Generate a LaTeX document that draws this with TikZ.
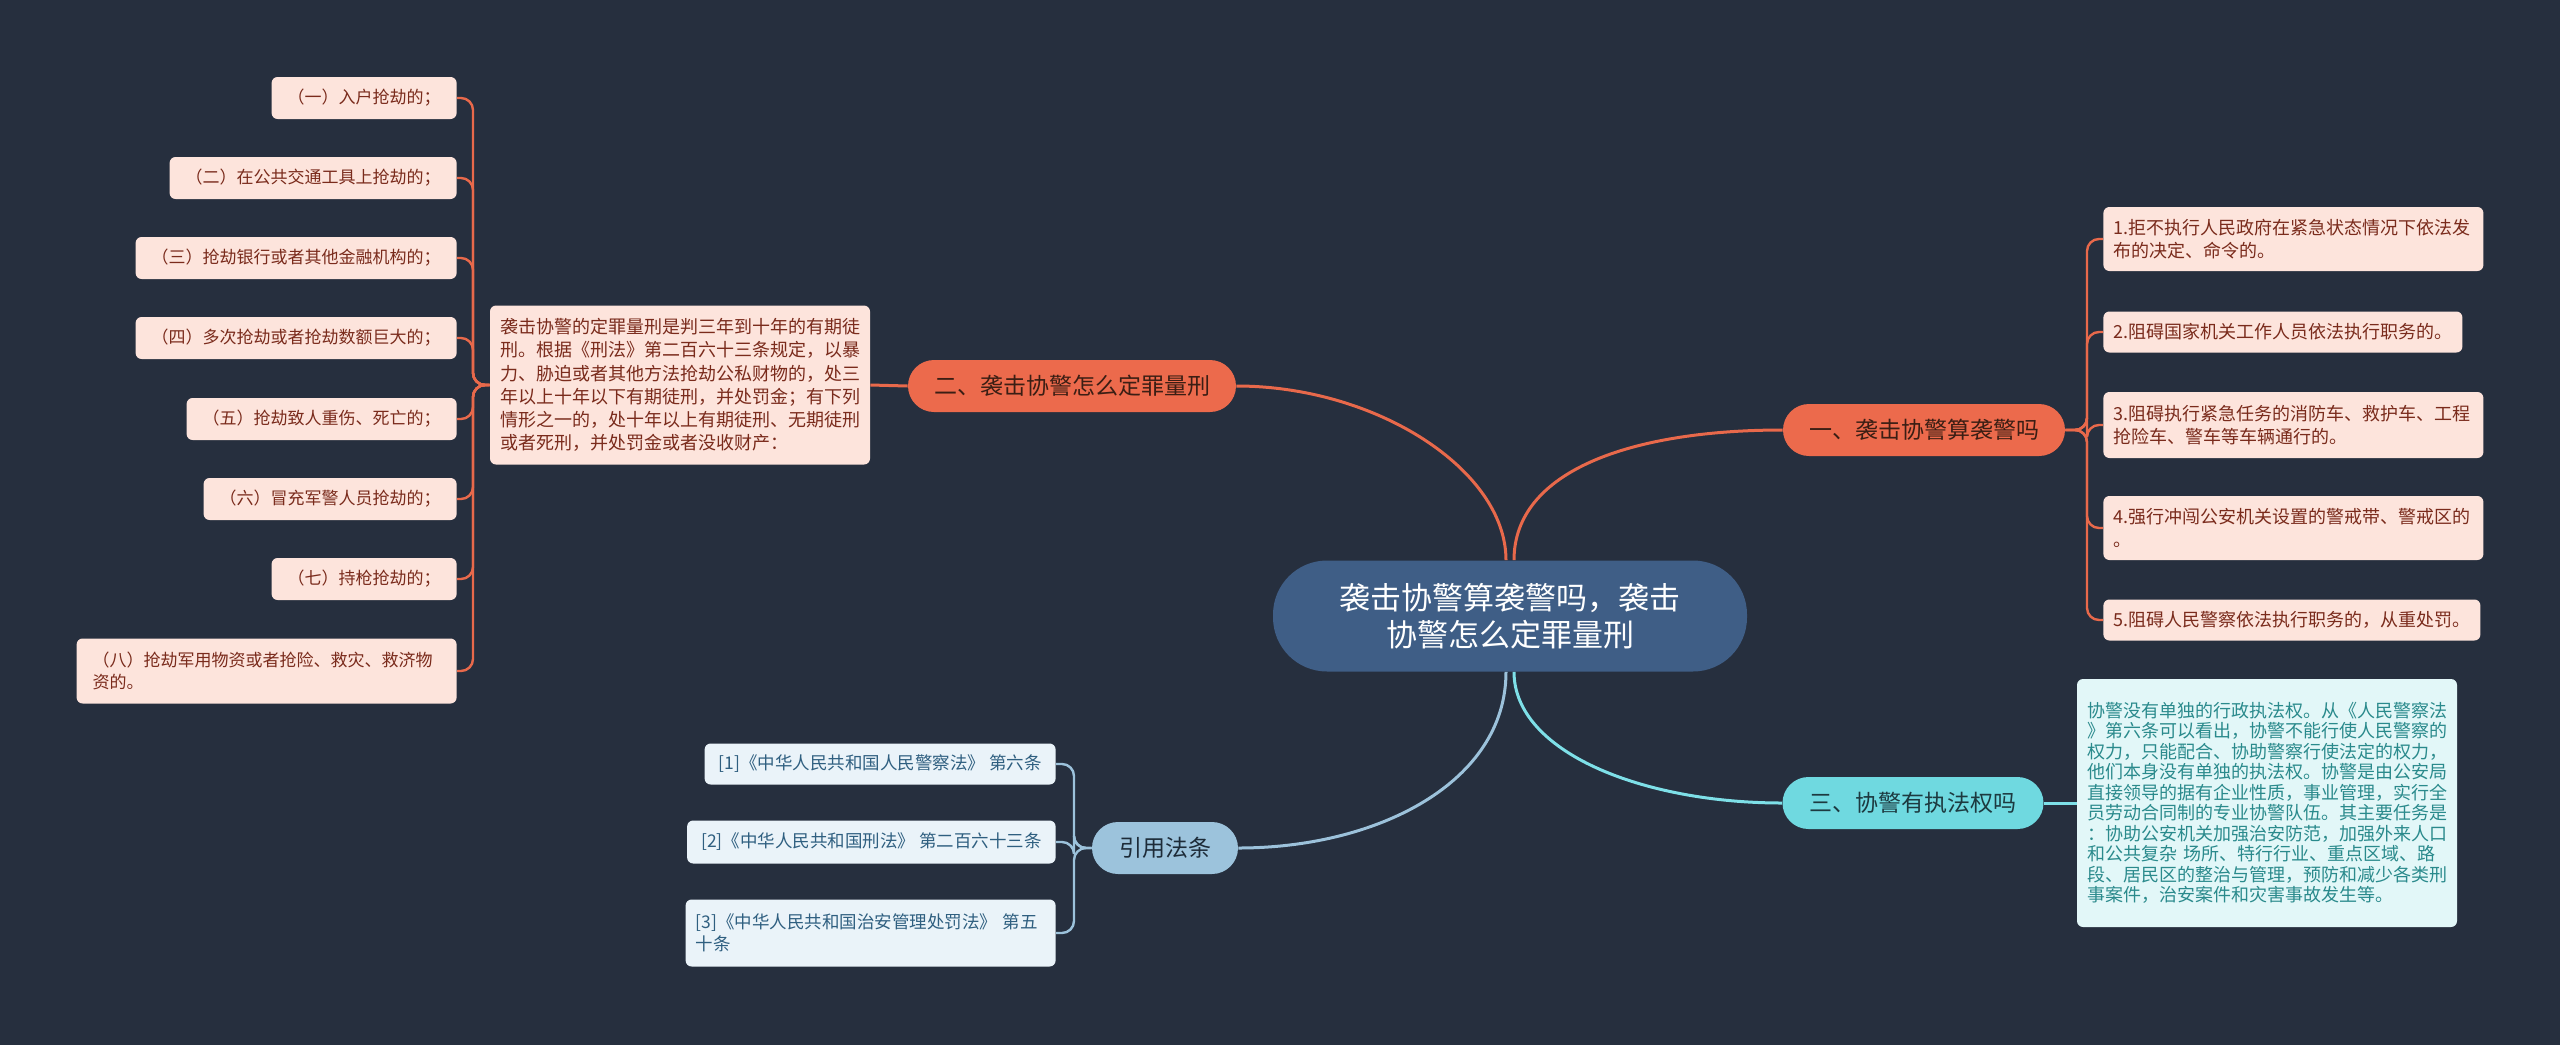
\documentclass[tikz,border=0pt]{standalone}
\usepackage{fontspec}
\setmainfont{Noto Sans CJK SC}
\definecolor{bg}{HTML}{262F3E}
\definecolor{hubfill}{HTML}{3F5E86}
\definecolor{redline}{HTML}{E8694B}
\definecolor{redfill}{HTML}{EC6A4C}
\definecolor{redtext}{HTML}{3B1E14}
\definecolor{leaffill}{HTML}{FDE4DC}
\definecolor{leaftext}{HTML}{7A2B1C}
\definecolor{cyanline}{HTML}{7EE0E8}
\definecolor{cyanfill}{HTML}{6FD9E0}
\definecolor{cyantext}{HTML}{1D3A40}
\definecolor{cyanleaf}{HTML}{E2F7F8}
\definecolor{cyanleaftext}{HTML}{2A8A8C}
\definecolor{refline}{HTML}{9CC2DB}
\definecolor{reffill}{HTML}{9CC3DC}
\definecolor{reftext}{HTML}{1D2B38}
\definecolor{refleaf}{HTML}{EAF3F9}
\definecolor{refleaftext}{HTML}{2F5F80}

\begin{document}
\begin{tikzpicture}[x=0.5pt, y=-0.5pt, every node/.style={inner sep=0pt},
      hub/.style={fill=hubfill, text=white, rounded corners=27pt, align=center,
                  minimum width=237pt, minimum height=55.5pt,
                  font=\fontsize{15.5}{18.5}\selectfont},
      topic/.style={rounded corners=13pt, minimum height=26pt, align=center,
                    font=\fontsize{11.5}{14}\selectfont},
      leaf/.style={fill=leaffill, text=leaftext, rounded corners=3pt, align=left,
                   inner xsep=5pt, font=\fontsize{9}{11.65}\selectfont},
      sideleaf/.style={leaf, inner xsep=8pt, minimum height=21pt,
                       font=\fontsize{8.5}{11}\selectfont},
      redlink/.style={draw=redline, line width=1.5pt},
      brace/.style={line width=1.2pt, rounded corners=6pt}]
    \fill[bg] (0,0) rectangle (2560,1045);
    \useasboundingbox (0,0) rectangle (2560,1045);

    \node[hub] (hub) at (1510,616) {袭击协警算袭警吗，袭击\\协警怎么定罪量刑};

    % main topics
    \node[topic, fill=redfill, text=redtext, minimum width=141pt] (t1) at (1924,430) {一、袭击协警算袭警吗};
    \node[topic, fill=redfill, text=redtext, minimum width=164pt] (t2) at (1072,386) {二、袭击协警怎么定罪量刑};
    \node[topic, fill=cyanfill, text=cyantext, minimum width=130.5pt] (t3) at (1913,803) {三、协警有执法权吗};
    \node[topic, fill=reffill, text=reftext, minimum width=73pt] (t4) at (1165,848) {引用法条};

    \draw[redlink] ([xshift=2pt]hub.north) .. controls +(0,-90) and +(-150,0) .. (t1.west);
    \draw[redlink] ([xshift=-2pt]hub.north) .. controls +(0,-90) and +(140,0) .. (t2.east);
    \draw[draw=cyanline, line width=1.5pt] ([xshift=2pt]hub.south) .. controls +(0,80) and +(-140,0) .. (t3.west);
    \draw[draw=refline, line width=1.5pt] ([xshift=-2pt]hub.south) .. controls +(0,110) and +(140,0) .. (t4.east);

    % topic one
    \node[leaf, anchor=west, text width=180pt, minimum height=32pt] (a1) at (2103,239)
      {1.拒不执行人民政府在紧急状态情况下依法发\\布的决定、命令的。};
    \node[leaf, anchor=west, minimum height=20.5pt] (a2) at (2103,332)
      {2.阻碍国家机关工作人员依法执行职务的。};
    \node[leaf, anchor=west, text width=180pt, minimum height=33pt] (a3) at (2103,425)
      {3.阻碍执行紧急任务的消防车、救护车、工程\\抢险车、警车等车辆通行的。};
    \node[leaf, anchor=west, text width=180pt, minimum height=32pt] (a4) at (2103,528)
      {4.强行冲闯公安机关设置的警戒带、警戒区的\\。};
    \node[leaf, anchor=west, minimum height=20.5pt] (a5) at (2103,620)
      {5.阻碍人民警察依法执行职务的，从重处罚。};
    \coordinate (ja) at (2087,430);
    \foreach \n in {a1,a2,a3,a4,a5}
      \draw[brace, draw=redline] (t1.east) -- (ja) |- (\n.west);

    % topic two
    \node[leaf, text width=180pt, minimum height=79.5pt] (b0) at (680,385)
      {袭击协警的定罪量刑是判三年到十年的有期徒\\刑。根据《刑法》第二百六十三条规定，以暴\\力、胁迫或者其他方法抢劫公私财物的，处三\\年以上十年以下有期徒刑，并处罚金；有下列\\情形之一的，处十年以上有期徒刑、无期徒刑\\或者死刑，并处罚金或者没收财产：};
    \draw[redlink] (t2.west) -- (b0.east);
    \node[sideleaf, anchor=east] (b1) at (457,98) {（一）入户抢劫的；};
    \node[sideleaf, anchor=east] (b2) at (457,178) {（二）在公共交通工具上抢劫的；};
    \node[sideleaf, anchor=east] (b3) at (457,258) {（三）抢劫银行或者其他金融机构的；};
    \node[sideleaf, anchor=east] (b4) at (457,338) {（四）多次抢劫或者抢劫数额巨大的；};
    \node[sideleaf, anchor=east] (b5) at (457,419) {（五）抢劫致人重伤、死亡的；};
    \node[sideleaf, anchor=east] (b6) at (457,499) {（六）冒充军警人员抢劫的；};
    \node[sideleaf, anchor=east] (b7) at (457,579) {（七）持枪抢劫的；};
    \node[sideleaf, anchor=east, text width=174pt, minimum height=32.5pt] (b8) at (457,671)
      {（八）抢劫军用物资或者抢险、救灾、救济物\\资的。};
    \coordinate (jb) at (473,385);
    \foreach \n in {b1,b2,b3,b4,b5,b6,b7,b8}
      \draw[brace, draw=redline] (b0.west) -- (jb) |- (\n.east);

    % topic three
    \node[leaf, fill=cyanleaf, text=cyanleaftext, text width=180pt, minimum height=124pt,
          font=\fontsize{9}{10.25}\selectfont] (c1) at (2267,803)
      {协警没有单独的行政执法权。从《人民警察法\\》第六条可以看出，协警不能行使人民警察的\\权力，只能配合、协助警察行使法定的权力，\\他们本身没有单独的执法权。协警是由公安局\\直接领导的据有企业性质，事业管理，实行全\\员劳动合同制的专业协警队伍。其主要任务是\\：协助公安机关加强治安防范，加强外来人口\\和公共复杂 场所、特行行业、重点区域、路\\段、居民区的整治与管理，预防和减少各类刑\\事案件，治安案件和灾害事故发生等。};
    \draw[draw=cyanline, line width=1.5pt] (t3.east) -- (c1.west);

    % references
    \node[leaf, fill=refleaf, text=refleaftext, anchor=east, inner xsep=7pt, minimum height=20.5pt,
          font=\fontsize{8.75}{11}\selectfont] (d1) at (1056,764) {[1]《中华人民共和国人民警察法》 第六条};
    \node[leaf, fill=refleaf, text=refleaftext, anchor=east, inner xsep=7pt, minimum height=21.5pt,
          font=\fontsize{8.75}{11}\selectfont] (d2) at (1056,842) {[2]《中华人民共和国刑法》 第二百六十三条};
    \node[leaf, fill=refleaf, text=refleaftext, anchor=east, text width=175pt, minimum height=33.5pt,
          font=\fontsize{8.75}{11}\selectfont] (d3) at (1056,933) {[3]《中华人民共和国治安管理处罚法》 第五\\十条};
    \coordinate (jd) at (1074,848);
    \foreach \n in {d1,d2,d3}
      \draw[brace, draw=refline] (t4.west) -- (jd) |- (\n.east);
  \end{tikzpicture}
\end{document}
